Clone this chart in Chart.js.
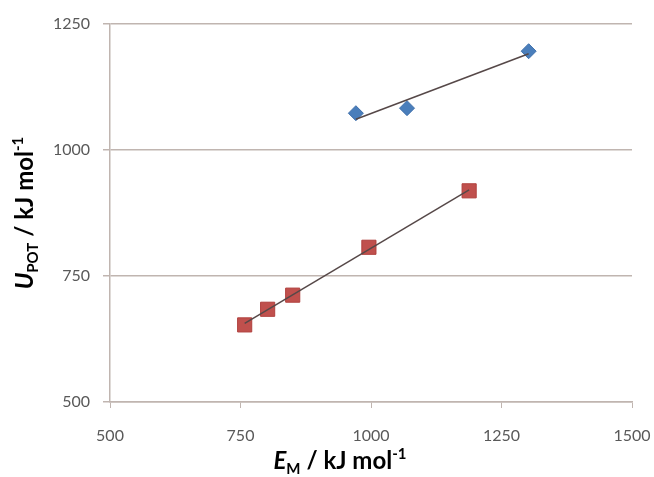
<!DOCTYPE html>
<html>
<head>
<meta charset="utf-8">
<script src="https://cdn.jsdelivr.net/npm/chart.js@4.4.1/dist/chart.umd.min.js"></script>
<style>
  html, body { margin: 0; padding: 0; background: #fff; }
  #wrap { width: 654px; height: 477px; }
</style>
</head>
<body>
<div id="wrap"><canvas id="myChart"></canvas></div>
<script>
// data
const xTicks = [500, 750, 1000, 1250, 1500];
const yTicks = [500, 750, 1000, 1250];
const blueX = [971, 1069, 1302];
const blueY = [1073, 1083, 1196];
const redX = [758, 802, 850, 996, 1188];
const redY = [653, 684, 712, 807, 919];
// trend line end points
const blueTrendX = [971, 1302];
const blueTrendY = [1061, 1191];
const redTrendX = [758, 1188];
const redTrendY = [656, 921];

function pts(xs, ys) {
  return xs.map((x, i) => ({ x: x, y: ys[i] }));
}

// draws a title made of pieces (sub / superscripts)
function drawRich(ctx, parts, cx, cy, rotate) {
  ctx.save();
  ctx.translate(cx, cy);
  if (rotate) ctx.rotate(-Math.PI / 2);
  let total = 0;
  parts.forEach(p => { ctx.font = p.font; p.w = ctx.measureText(p.text).width; total += p.w; });
  let x = -total / 2;
  ctx.textBaseline = 'alphabetic';
  ctx.fillStyle = '#000';
  parts.forEach(p => { ctx.font = p.font; ctx.fillText(p.text, x, p.dy); x += p.w; });
  ctx.restore();
}

const big = 'bold 24px Lato';
const bigIt = 'italic bold 24px Lato';
const small = 'bold 15px Lato';

const axisTitles = {
  id: 'axisTitles',
  afterDraw(chart) {
    const c = chart.ctx;
    drawRich(c, [
      { text: 'E', font: bigIt, dy: 0 },
      { text: 'M', font: small, dy: 5 },
      { text: ' / kJ mol', font: big, dy: 0 },
      { text: '-1', font: small, dy: -10 }
    ], 340, 469, false);
    drawRich(c, [
      { text: 'U', font: bigIt, dy: 0 },
      { text: 'POT', font: small, dy: 5 },
      { text: ' / kJ mol', font: big, dy: 0 },
      { text: '-1', font: small, dy: -10 }
    ], 33, 213, true);
  }
};

const gridCol = '#c0b5b0';
const tickFont = { family: 'Lato', size: 16 };
const plain = (v) => String(v);

const ctx = document.getElementById('myChart');
new Chart(ctx, {
  type: 'scatter',
  data: {
    datasets: [
      {
        type: 'line',
        data: pts(blueTrendX, blueTrendY),
        borderColor: '#564848',
        borderWidth: 1.5,
        pointRadius: 0,
        fill: false
      },
      {
        type: 'line',
        data: pts(redTrendX, redTrendY),
        borderColor: '#564848',
        borderWidth: 1.5,
        pointRadius: 0,
        fill: false
      },
      {
        data: pts(blueX, blueY),
        pointStyle: 'rectRot',
        pointRadius: 7.5,
        backgroundColor: '#4a7ebb',
        borderColor: '#3f70ab',
        borderWidth: 1
      },
      {
        data: pts(redX, redY),
        pointStyle: 'rect',
        pointRadius: 10,
        backgroundColor: '#c0504d',
        borderColor: '#b0413e',
        borderWidth: 1
      }
    ]
  },
  options: {
    responsive: true,
    maintainAspectRatio: false,
    animation: false,
    layout: { padding: { top: 24, right: 22, left: 0, bottom: 0 } },
    plugins: {
      legend: { display: false },
      tooltip: { enabled: false }
    },
    scales: {
      x: {
        type: 'linear',
        min: 500,
        max: 1500,
        afterBuildTicks: (s) => { s.ticks = xTicks.map(v => ({ value: v })); },
        afterFit: (s) => { s.height = 75; s.paddingLeft = 0; s.paddingRight = 0; },
        ticks: { color: '#595959', font: tickFont, padding: 18, callback: plain },
        grid: { drawOnChartArea: false, drawTicks: true, tickLength: 6, color: gridCol },
        border: { color: gridCol, width: 1.5 }
      },
      y: {
        min: 500,
        max: 1250,
        afterBuildTicks: (s) => { s.ticks = yTicks.map(v => ({ value: v })); },
        afterFit: (s) => { s.width = 110; s.paddingTop = 0; s.paddingBottom = 0; },
        ticks: { color: '#595959', font: tickFont, padding: 13, callback: plain },
        grid: { tickLength: 7, color: gridCol, lineWidth: 1.5 },
        border: { color: gridCol, width: 1.5 }
      }
    }
  },
  plugins: [axisTitles]
});
</script>
</body>
</html>
